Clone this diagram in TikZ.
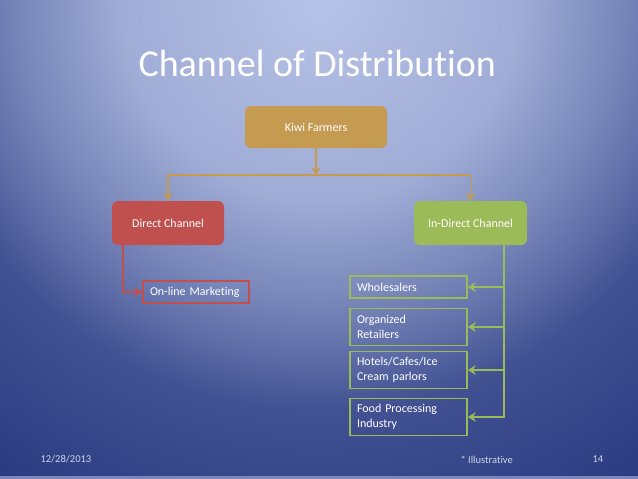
\documentclass[tikz,border=0pt]{standalone}
\usepackage{fontspec}
\setmainfont{Carlito}[Ligatures=NoCommon]
\usepackage{tikz}
\usetikzlibrary{arrows.meta,positioning,calc}

\definecolor{bglight}{HTML}{B6C2E6}
\definecolor{bgdark}{HTML}{20317A}
\definecolor{kiwitan}{HTML}{C49B50}
\definecolor{directred}{HTML}{C0504D}
\definecolor{indirgreen}{HTML}{9BBB59}
\definecolor{footgray}{HTML}{CDD3EA}
\pgfdeclareradialshading{slidebg}{\pgfpoint{0bp}{0bp}}{color(0bp)=(bglight); color(10.4bp)=(bglight!85!bgdark); color(15.8bp)=(bglight!58!bgdark); color(18.8bp)=(bglight!40!bgdark); color(21.4bp)=(bglight!22!bgdark); color(30.4bp)=(bglight!6!bgdark); color(32.4bp)=(bgdark); color(50bp)=(bgdark)}

\begin{document}
\begin{tikzpicture}[x=1pt,y=-1pt,
    solid/.style={draw=none,rounded corners=6pt,text=white,font=\fontsize{12}{15}\selectfont, text centered},
    outline/.style={draw,line width=1.8pt,text=white,font=\fontsize{12}{15}\selectfont, align=left, inner sep=0pt},
    link/.style={line width=1.8pt,-{Stealth[length=8pt,width=10pt,inset=3pt]}},
    foot/.style={text=footgray,font=\fontsize{10.5}{12}\selectfont, anchor=base west}
    ]
        %fond
\useasboundingbox (0,0) rectangle (638,479);
\begin{scope}
    \clip (0,0) rectangle (638,479);
    \shade[shading=slidebg] (-160,-480) rectangle (800,480);
    \fill[bglight!60!bgdark] (0,476) rectangle (638,479);
\end{scope}

    \node[text=white,font=\fontsize{38}{40}\selectfont,anchor=base west] (title) at (135,76) {Channel of Distribution};

    \node[solid,fill=kiwitan,minimum width=142pt,minimum height=42pt] (kiwi)        at (316,127)  {Kiwi Farmers};
    \node[solid,fill=directred,minimum width=112pt,minimum height=44pt] (direct)    at (168,223)  {Direct Channel};
    \node[solid,fill=indirgreen,minimum width=113pt,minimum height=44pt] (indirect) at (470.5,223) {In-Direct Channel};

    \node[outline,draw=directred,minimum width=106pt,minimum height=22pt,text width=92pt] (online) at (196,292) {On-line Marketing};

    \node[outline,draw=indirgreen,minimum width=117pt,minimum height=22pt,text width=103pt] (wholesale) at (408.5,287) {Wholesalers};
    \node[outline,draw=indirgreen,minimum width=117pt,minimum height=37pt,text width=103pt] (organized) at (408.5,327) {Organized\\Retailers};
    \node[outline,draw=indirgreen,minimum width=117pt,minimum height=37pt,text width=103pt] (hotels)    at (408.5,370) {Hotels/Cafes/Ice\\Cream parlors};
    \node[outline,draw=indirgreen,minimum width=117pt,minimum height=37pt,text width=103pt] (food)      at (408.5,417) {Food Processing\\Industry};

    \coordinate (split) at (316,175);
    \coordinate (trunk) at (504,245);

    \draw[link,color=kiwitan] (kiwi.south) -- (split);
    \draw[link,color=kiwitan] (split) -| (direct.north);
    \draw[link,color=kiwitan] (split) -| (indirect.north);
    \draw[link,color=directred] ([xshift=11pt]direct.south west) |- (online.west);
    \draw[link,color=indirgreen] (trunk) |- (food.east);
    \draw[link,color=indirgreen] (trunk |- wholesale.east) -- (wholesale.east);
    \draw[link,color=indirgreen] (trunk |- organized.east) -- (organized.east);
    \draw[link,color=indirgreen] (trunk |- hotels.east) -- (hotels.east);

    \node[foot] (date)  at (37,462)  {12/28/2013};
    \node[foot] (note)  at (457,463) {* Illustrative};
    \node[foot] (page)  at (589,462) {14};
\end{tikzpicture}
\end{document}
